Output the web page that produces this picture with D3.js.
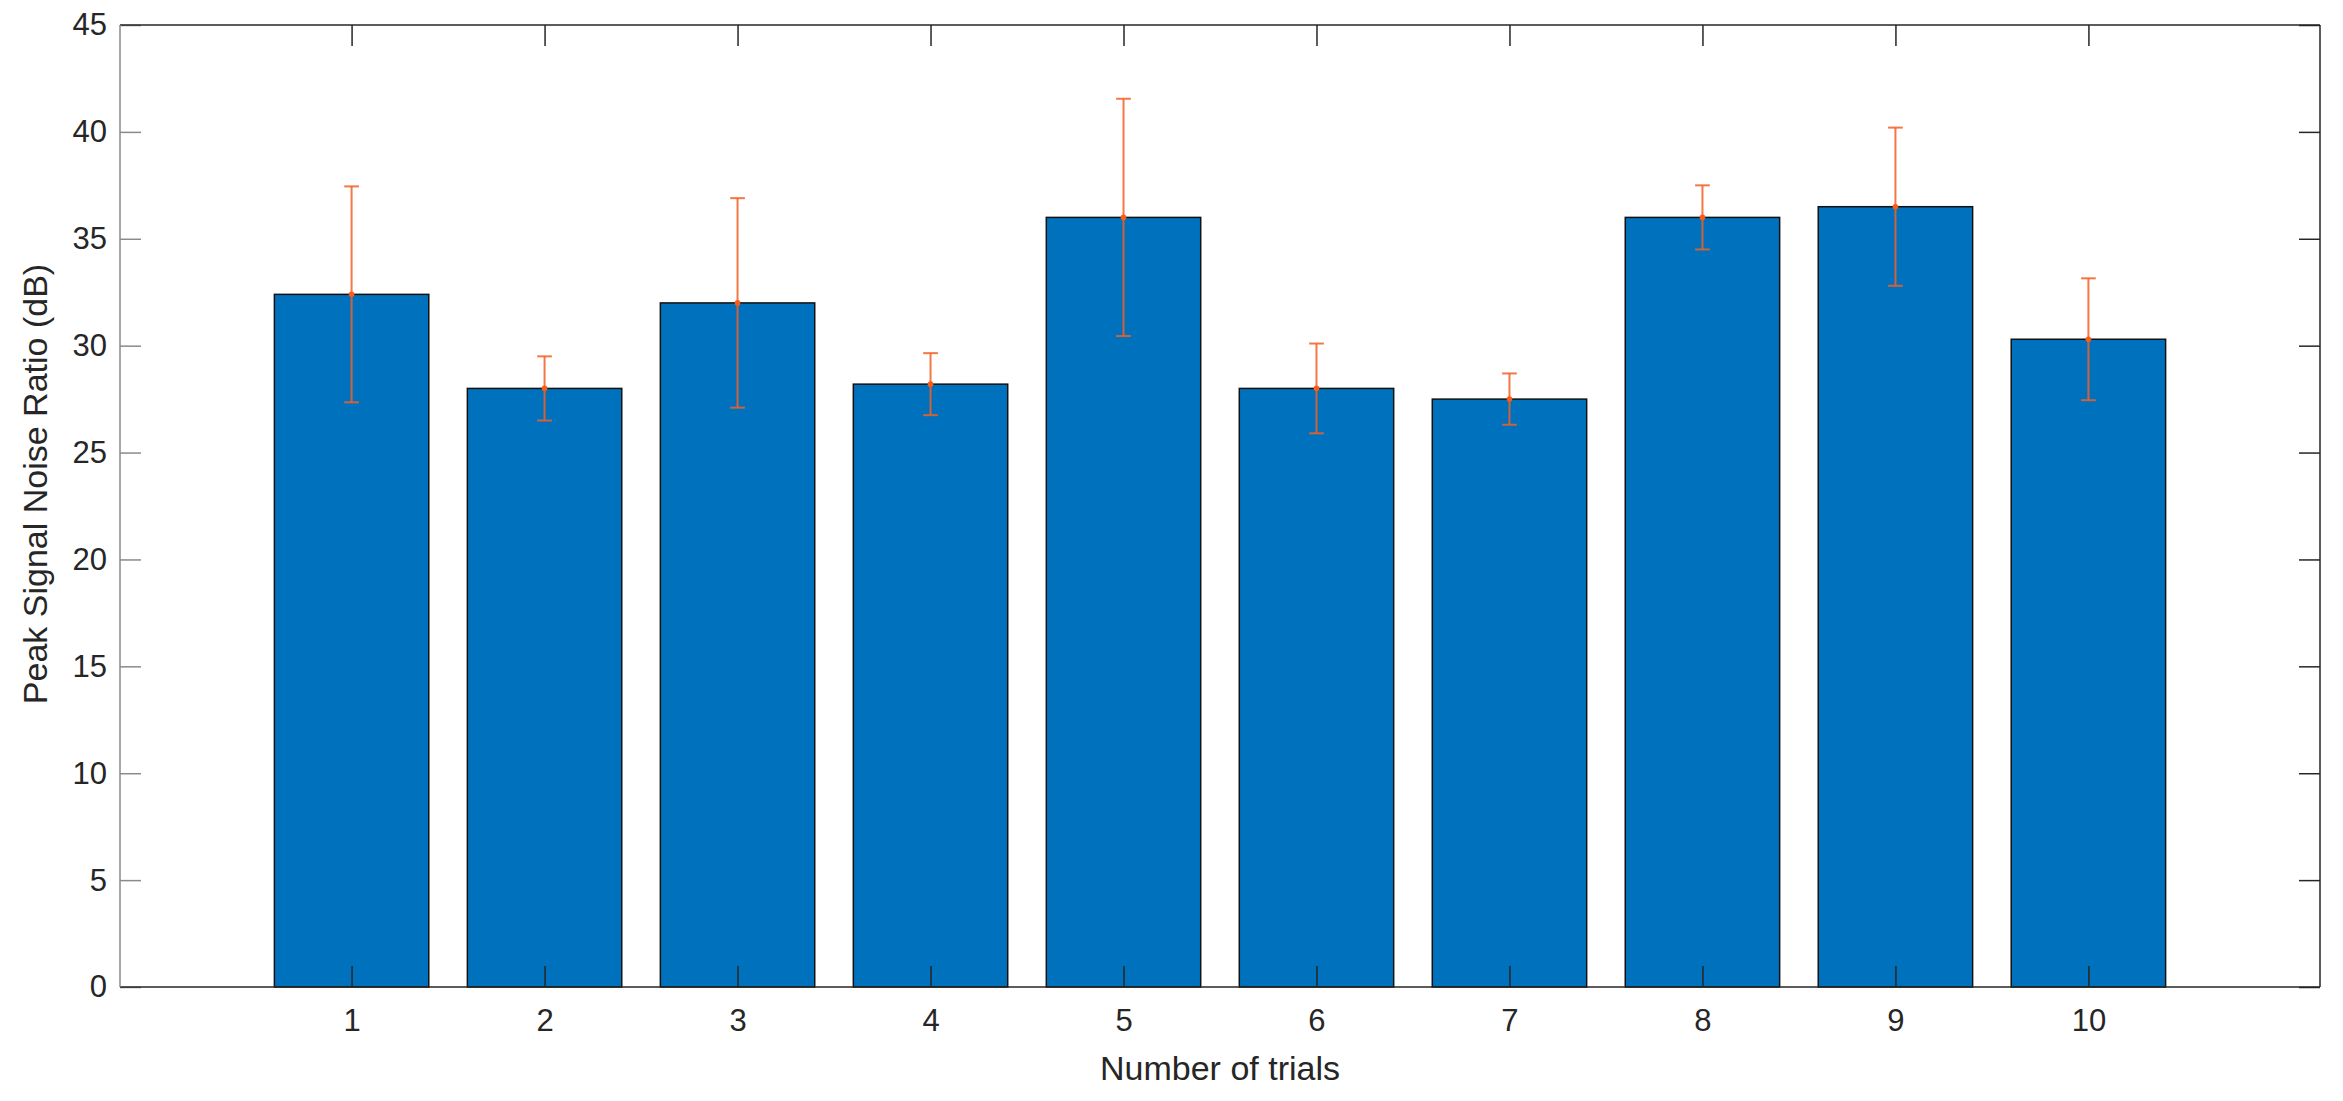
<!DOCTYPE html>
<html>
<head>
<meta charset="utf-8">
<script src="https://cdn.jsdelivr.net/npm/d3@7"></script>
<style>
  html, body { margin: 0; padding: 0; background: #fff; }
  svg { display: block; }
  text { font-family: "Liberation Sans", Arial, Helvetica, sans-serif; }
</style>
</head>
<body>
<svg id="chart" width="2343" height="1101"></svg>
<script>
const trials = [1, 2, 3, 4, 5, 6, 7, 8, 9, 10];
const psnr = [32.4, 28.0, 32.0, 28.2, 36.0, 28.0, 27.5, 36.0, 36.5, 30.3];
const errors = [5.05, 1.5, 4.9, 1.45, 5.55, 2.1, 1.2, 1.5, 3.7, 2.85];
const yTicks = [0, 5, 10, 15, 20, 25, 30, 35, 40, 45];
const xLabel = "Number of trials";
const yLabel = "Peak Signal Noise Ratio (dB)";

const W = 2343, H = 1101;
const m = { left: 120, right: W - 2320, top: 25, bottom: H - 987 };
const svg = d3.select("#chart");

const x = d3.scaleLinear().domain([-0.2, 11.2]).range([m.left, W - m.right]);
const y = d3.scaleLinear().domain([0, 45]).range([H - m.bottom, m.top]);
const barW = x(0.8) - x(0);

const axisColor = "#262626";
const tickLen = 21;
const fontSize = 31;
const labelSize = 34;

// bars
svg.append("g").selectAll("rect")
  .data(trials)
  .join("rect")
  .attr("x", (d) => x(d) - barW / 2)
  .attr("y", (d, i) => y(psnr[i]))
  .attr("width", barW)
  .attr("height", (d, i) => y(0) - y(psnr[i]))
  .attr("fill", "#0072BD")
  .attr("stroke", "#111")
  .attr("stroke-width", 1.5);

// error bars
const eb = svg.append("g").attr("stroke", "#f25f24").attr("stroke-width", 2).attr("stroke-opacity", 0.85);
const capW = 14.7;
trials.forEach((t, i) => {
  const cx = x(t);
  const yt = y(psnr[i] + errors[i]);
  const yb = y(psnr[i] - errors[i]);
  eb.append("line").attr("x1", cx).attr("x2", cx).attr("y1", yt).attr("y2", yb);
  eb.append("line").attr("x1", cx - capW / 2).attr("x2", cx + capW / 2).attr("y1", yt).attr("y2", yt);
  eb.append("line").attr("x1", cx - capW / 2).attr("x2", cx + capW / 2).attr("y1", yb).attr("y2", yb);
  svg.append("circle").attr("cx", cx).attr("cy", y(psnr[i])).attr("r", 2.8).attr("fill", "#ff5a14");
});

// axes
const yAxisL = d3.axisLeft(y).tickValues(yTicks).tickSize(-tickLen).tickPadding(13).tickFormat(d3.format("d"));
const gL = svg.append("g").attr("transform", `translate(${m.left},0)`).call(yAxisL);
gL.select(".domain").remove();
gL.selectAll(".tick line").attr("stroke", "#8a8a8a").attr("stroke-width", 1.5);
gL.selectAll(".tick text").attr("fill", axisColor).attr("font-size", fontSize)
  .style("font-family", "'Liberation Sans', Arial, sans-serif");

const yAxisR = d3.axisRight(y).tickValues(yTicks).tickSize(-tickLen).tickFormat("");
const gR = svg.append("g").attr("transform", `translate(${W - m.right},0)`).call(yAxisR);
gR.select(".domain").remove();
gR.selectAll(".tick line").attr("stroke", axisColor).attr("stroke-width", 1.5);

const xAxisB = d3.axisBottom(x).tickValues(trials).tickSize(-tickLen).tickPadding(22).tickFormat(d3.format("d"));
const gB = svg.append("g").attr("transform", `translate(0,${H - m.bottom})`).call(xAxisB);
gB.select(".domain").remove();
gB.selectAll(".tick line").attr("stroke", axisColor).attr("stroke-width", 1.5);
gB.selectAll(".tick text").attr("fill", axisColor).attr("font-size", fontSize)
  .style("font-family", "'Liberation Sans', Arial, sans-serif");

const xAxisT = d3.axisTop(x).tickValues(trials).tickSize(-tickLen).tickFormat("");
const gT = svg.append("g").attr("transform", `translate(0,${m.top})`).call(xAxisT);
gT.select(".domain").remove();
gT.selectAll(".tick line").attr("stroke", axisColor).attr("stroke-width", 1.5);

// box lines
const x0 = m.left, x1 = W - m.right, y0 = m.top, y1 = H - m.bottom;
svg.append("line").attr("x1", x0).attr("x2", x1).attr("y1", y0).attr("y2", y0).attr("stroke", axisColor).attr("stroke-width", 1.5);
svg.append("line").attr("x1", x0).attr("x2", x1).attr("y1", y1).attr("y2", y1).attr("stroke", axisColor).attr("stroke-width", 1.5);
svg.append("line").attr("x1", x1).attr("x2", x1).attr("y1", y0).attr("y2", y1).attr("stroke", axisColor).attr("stroke-width", 1.5);
svg.append("line").attr("x1", x0).attr("x2", x0).attr("y1", y0).attr("y2", y1).attr("stroke", "#8a8a8a").attr("stroke-width", 1.5);

// labels
svg.append("text").attr("x", (x0 + x1) / 2).attr("y", 1080)
  .attr("text-anchor", "middle").attr("font-size", labelSize).attr("fill", axisColor).text(xLabel);
svg.append("text").attr("transform", `translate(47,484) rotate(-90)`)
  .attr("text-anchor", "middle").attr("font-size", labelSize).attr("fill", axisColor).text(yLabel);
</script>
</body>
</html>
